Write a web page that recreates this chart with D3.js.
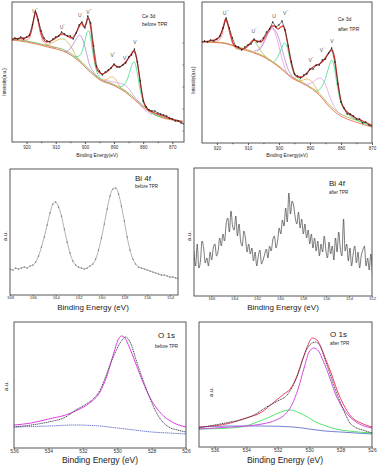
<!DOCTYPE html>
<html>
<head>
<meta charset="utf-8">
<script src="https://cdn.jsdelivr.net/npm/d3@7"></script>
<style>
  body { margin: 0; background: #fff; }
  svg { display: block; }
  text { font-family: "Liberation Sans", Arial, sans-serif; }
</style>
</head>
<body>
<div id="chart"></div>
<script>
// tick labels
var ceTicks = [920, 910, 900, 890, 880, 870];
var ceMinor = [915, 905, 895, 885, 875];
var ceYTicks = [11, 33, 55, 77, 99];
var biTicksBefore = [168, 166, 164, 162, 160, 158, 156, 154];
var biTicksAfter = [166, 164, 162, 160, 158, 156, 154, 152];
var oTicks = [536, 534, 532, 530, 528, 526];

// Ce 3d before TPR : measured counts, 925 eV down to 866 eV every 1 eV
var ceBeforeMeasured = [102, 104, 103, 105, 103, 105, 107, 117, 131, 122, 111, 104, 101, 100, 103, 105, 106, 110, 108, 106,
  106, 103, 109, 117, 120, 114, 126, 119, 96, 76, 71, 67, 70, 72, 74, 78, 75, 75, 77, 79,
  85, 87, 93, 80, 61, 41, 35, 32, 31, 31, 29, 28, 27, 26, 24, 23, 21, 21, 19, 18];
var ceBeforeEnvelope = [[925,103],[921,104],[919.5,105],[918.5,110],[917.6,122],[916.9,130],[916.2,124],[915.4,113],[914.4,104],[913,100],[911,102],[909,106],[907.8,108],[906,106],[904.5,104],[903.2,108],[902,115],[901.2,119],[900.3,115],[899.6,118],[898.9,124],[898.2,118],[897.4,100],[896.5,80],[895.5,71],[894,68],[892.5,70],[891,74],[890,77],[888.5,75],[887.5,76],[886,80],[884.5,86],[883.3,91],[882.4,86],[881.6,72],[880.8,55],[879.8,40],[878.5,33],[876,29],[873,26],[870,23],[866.5,20]];
var ceBeforeU3 = [[922,103],[920,102],[919,104],[918.2,112],[917.5,123],[916.9,128],[916.3,123],[915.6,113],[914.8,104],[913.8,99],[912,96],[910,94]];
var ceBeforeU2 = [[914,97],[912,98],[910,101],[908.5,103],[907.5,103],[906,100],[904.5,94],[903,86],[901.5,81]];
var ceBeforeU = [[907,90],[905.5,92],[904.2,97],[903,103],[901.8,107],[900.7,102],[899.6,91],[898.5,78],[897,70],[895.5,65]];
var ceBeforeV3 = [[904,85],[902,86],[900.8,92],[900,101],[899.2,110],[898.7,111],[898.1,105],[897.4,92],[896.6,78],[895.6,68],[894.5,63]];
var ceBeforeV2 = [[895,63],[893.5,62],[892.2,63],[891.2,65],[890.4,65],[889.5,63],[888.5,58],[887.3,53],[886,50]];
var ceBeforeV1 = [[894,62],[892,61],[890,60],[888.5,59],[887,58],[885.8,56],[884.6,52],[883.4,47],[882.2,42],[880.8,36],[879,31],[877,27]];
var ceBeforeV = [[888,55],[886.6,57],[885.4,63],[884.4,72],[883.6,79],[883.1,80],[882.5,76],[881.8,65],[881,52],[880.2,42],[879,35],[877,29],[874,25]];
var ceBeforeBg = [[925,102],[920,100],[912.7,95],[906,89],[901.7,80],[898.2,70],[894.8,62],[890.4,57],[886.2,50],[882.1,40],[878.7,32],[874.2,25],[870,22],[866.5,20]];
var ceBeforeBg2 = [[925,103],[920,101],[913,96.5],[906,90.5],[901.7,81.5],[898,71],[894.8,63],[890.4,58],[886,51],[882,41.5],[878.7,33.5],[874,26],[866.5,21]];
var ceBeforeLabels = [["U", "'''", 917.1, 129], ["U", "''", 907.8, 113], ["U", "", 901.7, 125], ["V", "'''", 898.6, 128],
  ["V", "''", 890.4, 85], ["V", "'", 886.2, 82], ["V", "", 882.8, 98]];

// Ce 3d after TPR : measured counts, 925 eV down to 870 eV every 1 eV
var ceAfterMeasured = [100, 102, 101, 103, 102, 104, 107, 115, 125, 115, 105, 97, 96, 93, 96, 98, 99, 104, 101, 102,
  105, 111, 114, 121, 116, 118, 122, 113, 97, 81, 69, 67, 65, 68, 69, 74, 74, 78, 78, 83,
  84, 90, 95, 81, 59, 41, 35, 29, 29, 27, 24, 24, 20, 21, 18, 17];
var ceAfterEnvelope = [[925,101],[921,103],[919.5,105],[918.6,110],[917.8,118],[917.2,124],[916.5,119],[915.6,108],[914.5,98],[913,95],[911.3,94],[909.5,99],[908.2,103],[907,102],[905.9,101],[904.5,106],[903.2,113],[902.2,117],[901.3,117],[900.4,114],[899.4,116],[898.7,117],[898,112],[897.2,100],[896.2,83],[895.2,71],[894,66],[892.6,66],[891,70],[889.8,74],[888.5,77],[887,79],[885.5,83],[884.2,89],[882.9,93],[882.1,86],[881.3,68],[880.5,50],[879.6,38],[878,31],[875.3,25],[873,22],[870.2,18]];
var ceAfterU3 = [[922,102],[920,102],[919,104],[918.2,110],[917.6,119],[917.2,123],[916.6,119],[915.8,109],[915,100],[914,95],[912,93]];
var ceAfterU2 = [[914,95],[912.5,94],[911,95],[909.6,98],[908.5,101],[908,102],[907.2,99],[906,93],[904.5,87],[903,82]];
var ceAfterU = [[908,92],[906.5,93],[905.2,98],[904,106],[903,112],[902.2,115],[901.3,113],[900.3,107],[899.3,97],[898.3,86],[897.2,75],[896,68],[894.5,64]];
var ceAfterUb = [[907,93],[905.5,98],[904.3,106],[903.3,113],[902.6,116],[901.8,114],[900.8,106],[899.8,94],[898.6,80],[897.4,70],[896,65]];
var ceAfterV3 = [[902,80],[900.8,84],[899.8,90],[899,96],[898.3,100],[897.6,98],[896.9,90],[896.1,79],[895.3,70],[894.3,66],[893,63]];
var ceAfterV2 = [[895,65],[893.5,62],[892.2,63],[891,64],[890,63],[889,60],[888,55],[887,50]];
var ceAfterV1 = [[892,58],[890.5,59],[889,61],[887.8,64],[886.8,65],[885.8,63],[884.8,57],[883.8,48],[882.8,40],[881.5,33],[880,28]];
var ceAfterV = [[888,52],[886.5,55],[885.3,62],[884.2,73],[883.4,81],[883,83],[882.4,79],[881.6,65],[880.8,50],[880,40],[879,34],[877.5,28],[875,23],[872,19],[870,17]];
var ceAfterBg = [[925,101],[918.4,100],[912,94],[904.3,85],[900,76],[895.8,65],[891.4,58],[887,48],[883.7,36],[880.6,28],[875.3,21],[870,16]];
var ceAfterBg2 = [[925,101.5],[918.4,100.5],[912,95],[904.3,86],[900,77],[895.8,66],[891.4,59],[887,49.5],[883.7,38],[880.6,30],[875.3,23],[870,18]];
var ceAfterLabels = [["U", "'''", 917.2, 128], ["U", "''", 908, 110], ["U", "", 901.6, 125], ["V", "'''", 897.8, 128],
  ["V", "''", 889.7, 81], ["V", "'", 886.2, 91], ["V", "", 882.9, 100]];

// Bi 4f before TPR : 168 eV down, every 0.25 eV
var biBefore = [26, 25, 27, 26, 27, 28, 27, 29, 30, 33, 39, 48, 58, 70, 82, 91, 93, 88, 79, 66,
  53, 42, 34, 30, 28, 27, 26, 27, 29, 31, 36, 45, 57, 71, 86, 99, 106, 107, 101, 89,
  74, 58, 45, 36, 31, 28, 27, 26, 25, 24, 23, 22, 21, 20, 20, 19, 18, 18, 17, 16];
// Bi 4f after TPR : 167.5 eV down, every 0.14 eV
var biAfter = [45, 30, 52, 28, 35, 55, 48, 33, 38, 30, 44, 36, 48, 52, 40, 45, 58, 50, 62, 55,
  72, 78, 64, 85, 70, 66, 80, 60, 72, 55, 50, 65, 58, 44, 52, 42, 48, 35, 44, 30,
  40, 46, 32, 36, 42, 47, 38, 50, 45, 56, 60, 48, 55, 68, 62, 76, 70, 88, 74, 103,
  82, 95, 90, 78, 72, 84, 68, 77, 62, 72, 58, 66, 52, 62, 48, 58, 45, 55, 40, 52,
  44, 60, 46, 38, 54, 42, 50, 36, 58, 44, 64, 48, 40, 77, 45, 52, 35, 48, 30, 42,
  50, 33, 44, 28, 40, 46, 50, 30, 38, 26, 42, 20];

// O 1s before TPR
var oBeforeMeasured = [[536,21],[535,23],[534,26],[533,31],[532.4,38],[531.8,44],[531.4,49],[531,58],[530.7,70],[530.4,84],[530.1,96],[529.8,106],[529.5,111],[529.2,104],[528.9,88],[528.5,68],[528.1,50],[527.8,38],[527.4,27],[527,21],[526.5,18],[526,16]];
var oBeforeFit = [[536,23],[535,25],[534,29],[533,33],[532.3,38],[531.6,45],[531,56],[530.6,72],[530.2,95],[529.95,108],[529.75,112],[529.55,110],[529.3,101],[529,88],[528.6,70],[528.2,54],[527.8,42],[527.3,32],[526.7,25],[526,21]];
var oBeforeBg = [[536,21],[534,22],[532.5,23],[531,22],[530,20],[529,18],[528,16],[527,15],[526,14]];

// O 1s after TPR
var oAfterMeasured = [[537,19],[536,22],[535,25],[534.4,27],[533.5,32],[532.7,40],[532,46],[531.4,52],[531,62],[530.7,73],[530.4,88],[530.1,99],[529.8,104],[529.6,105],[529.3,101],[529,88],[528.6,70],[528.3,56],[528,44],[527.7,33],[527.4,24],[527.1,20],[526.6,17],[526,14]];
var oAfterEnvelope = [[537,20],[535,24],[534,29],[533,35],[532.3,44],[531.6,53],[531.2,58],[530.8,70],[530.4,88],[530.1,101],[529.8,109],[529.5,107],[529.2,98],[528.9,86],[528.6,74],[528.2,56],[527.8,42],[527.3,30],[526.7,24],[526,20]];
var oAfterLattice = [[537,18],[535,20],[534,21],[533,23],[532.1,27],[531.5,33],[531.1,42],[530.7,58],[530.3,80],[530,95],[529.7,99],[529.4,96],[529.1,86],[528.7,70],[528.3,52],[527.9,40],[527.4,30],[526.8,23],[526,19]];
var oAfterDefect = [[537,18],[535,19],[534,21],[533.3,25],[532.5,30],[531.8,35],[531.2,37],[530.6,34],[530.1,30],[529.6,25],[529.1,22],[528.3,18],[527.5,16],[526,14]];
var oAfterBg = [[537,20],[535,21],[533,21],[531,20],[530,18],[529,16],[528,15],[526,13]];

var svg = d3.select("#chart").append("svg").attr("width", 378).attr("height", 467);
var clipN = 0;

function panel(box, xDom, yMax, ticks, minor) {
  var g = svg.append("g").attr("transform", "translate(" + box.x + "," + box.y + ")");
  var x = d3.scaleLinear().domain(xDom).range([0, box.w]);
  var y = d3.scaleLinear().domain([0, yMax]).range([box.h, 0]);
  var id = "clip" + (clipN++);
  g.append("clipPath").attr("id", id).append("rect").attr("width", box.w).attr("height", box.h);
  var plot = g.append("g").attr("clip-path", "url(#" + id + ")");
  if (minor) {
    g.append("g").attr("transform", "translate(0," + box.h + ")")
      .call(d3.axisBottom(x).tickValues(minor).tickSize(1.2).tickFormat(""))
      .call(function (a) { a.select(".domain").remove(); a.selectAll("line").attr("stroke", "#555"); });
  }
  var ax = g.append("g").attr("transform", "translate(0," + box.h + ")")
    .call(d3.axisBottom(x).tickValues(ticks).tickSize(box.tick).tickPadding(box.pad).tickFormat(d3.format("d")));
  ax.select(".domain").remove();
  ax.selectAll("line").attr("stroke", "#555");
  ax.selectAll("text").style("font-size", box.fs + "px").attr("fill", "#333").style("font-family", "'Liberation Sans', Arial, sans-serif");
  g.append("rect").attr("width", box.w).attr("height", box.h)
    .attr("fill", "none").attr("stroke", "#444").attr("stroke-width", 0.9);
  return { g: g, plot: plot, x: x, y: y, w: box.w, h: box.h };
}

function curve(p, pts, color, width, dash) {
  p.plot.append("path").datum(pts)
    .attr("fill", "none").attr("stroke", color).attr("stroke-width", width)
    .attr("stroke-dasharray", dash || null)
    .attr("d", d3.line().x(function (d) { return p.x(d[0]); }).y(function (d) { return p.y(d[1]); }).curve(d3.curveMonotoneX));
}

function spectrum(start, step, vals) {
  return vals.map(function (v, i) { return [start - i * step, v]; });
}

function dots(p, pts, color, r) {
  p.plot.selectAll(null).data(pts).enter().append("circle")
    .attr("cx", function (d) { return p.x(d[0]); }).attr("cy", function (d) { return p.y(d[1]); })
    .attr("r", r).attr("fill", color);
}

function label(x, y, txt, size, opts) {
  opts = opts || {};
  var t = svg.append("text").attr("x", x).attr("y", y).text(txt)
    .style("font-size", size + "px").attr("fill", opts.fill || "#222")
    .attr("text-anchor", opts.anchor || "start");
  if (opts.rot) t.attr("transform", "rotate(-90," + x + "," + y + ")");
  return t;
}

function peakLabels(p, list) {
  list.forEach(function (d) {
    var t = p.g.append("text").attr("x", p.x(d[2])).attr("y", p.y(d[3]))
      .attr("text-anchor", "middle").style("font-size", "5px").attr("fill", "#555").text(d[0]);
    if (d[1]) t.append("tspan").attr("dy", -1.8).style("font-size", "3.6px").text(d[1]);
  });
}

function yTicksRight(p, vals) {
  p.g.selectAll(null).data(vals).enter().append("line")
    .attr("x1", p.w).attr("x2", p.w - 1.5)
    .attr("y1", function (d) { return p.y(d); }).attr("y2", function (d) { return p.y(d); })
    .attr("stroke", "#555").attr("stroke-width", 0.7);
}

// ---------- Ce 3d before ----------
var p1 = panel({ x: 12, y: 2, w: 172, h: 140, tick: 2, pad: 1.5, fs: 4.5 }, [925, 866], 140, ceTicks, ceMinor);
curve(p1, ceBeforeBg2, "#6ab04c", 0.8);
curve(p1, ceBeforeBg, "#d8602e", 0.8);
curve(p1, ceBeforeU3, "#f07070", 0.7);
curve(p1, ceBeforeU2, "#c2b040", 0.7);
curve(p1, ceBeforeU, "#a77cc8", 0.7);
curve(p1, ceBeforeV3, "#3fe08a", 0.8);
curve(p1, ceBeforeV2, "#e5a53a", 0.7);
curve(p1, ceBeforeV1, "#d795e6", 0.7);
curve(p1, ceBeforeV, "#3fe08a", 0.8);
curve(p1, ceBeforeEnvelope, "#e8403a", 1.3);
var m1 = spectrum(925, 1, ceBeforeMeasured);
p1.plot.append("path").datum(m1).attr("fill", "none").attr("stroke", "#222").attr("stroke-width", 0.6)
  .attr("d", d3.line().x(function (d) { return p1.x(d[0]); }).y(function (d) { return p1.y(d[1]); }));
dots(p1, m1, "#111", 0.7);
peakLabels(p1, ceBeforeLabels);
yTicksRight(p1, ceYTicks);
label(142, 18, "Ce 3d", 5);
label(142, 26, "before TPR", 5);
label(97, 157, "Binding Energy(eV)", 4.8, { anchor: "middle" });
label(6, 82, "Intensity(a.u.)", 4.5, { anchor: "middle", rot: true });

// ---------- Ce 3d after ----------
var p2 = panel({ x: 202, y: 2, w: 170, h: 141, tick: 2, pad: 1.5, fs: 4.5 }, [924.8, 870], 141, ceTicks, ceMinor);
curve(p2, ceAfterBg2, "#a8b040", 0.8);
curve(p2, ceAfterBg, "#e0603a", 0.8);
curve(p2, ceAfterU3, "#f07070", 0.7);
curve(p2, ceAfterU2, "#8cc040", 0.7);
curve(p2, ceAfterUb, "#e68ad8", 0.7);
curve(p2, ceAfterU, "#a77cc8", 0.7);
curve(p2, ceAfterV3, "#3fe08a", 0.8);
curve(p2, ceAfterV2, "#e5a53a", 0.7);
curve(p2, ceAfterV1, "#d795e6", 0.7);
curve(p2, ceAfterV, "#3fe08a", 0.8);
curve(p2, ceAfterEnvelope, "#e8403a", 1.3);
var m2 = spectrum(925, 1, ceAfterMeasured);
p2.plot.append("path").datum(m2).attr("fill", "none").attr("stroke", "#222").attr("stroke-width", 0.6)
  .attr("d", d3.line().x(function (d) { return p2.x(d[0]); }).y(function (d) { return p2.y(d[1]); }));
dots(p2, m2, "#111", 0.7);
peakLabels(p2, ceAfterLabels);
label(338, 21, "Ce 3d", 5);
label(338, 31, "after TPR", 5);
label(287, 157, "Binding Energy(eV)", 4.8, { anchor: "middle" });
label(195, 80, "Intensity(a.u.)", 4.5, { anchor: "middle", rot: true });

// ---------- Bi 4f before ----------
var p3 = panel({ x: 10, y: 169, w: 168, h: 126, tick: 0.8, pad: 0.2, fs: 4.3 }, [168, 153.3], 126, biTicksBefore);
var b1 = spectrum(168, 0.25, biBefore);
curve(p3, b1, "#666", 0.5);
dots(p3, b1, "#333", 0.55);
label(135, 181, "Bi 4f", 8);
label(135, 187.5, "before TPR", 4.5);
label(93, 310, "Binding Energy (eV)", 8, { anchor: "middle" });
label(7, 236, "a.u.", 6, { anchor: "middle", rot: true });

// ---------- Bi 4f after ----------
var p4 = panel({ x: 194, y: 168, w: 178, h: 128, tick: 0.8, pad: 0.2, fs: 4.3 }, [167.5, 152], 128, biTicksAfter);
curve(p4, spectrum(167.5, 0.14, biAfter), "#333", 0.65);
label(329, 186, "Bi 4f", 8);
label(329, 194, "after TPR", 4.5);
label(283, 310, "Binding Energy (eV)", 8, { anchor: "middle" });
label(191, 236, "a.u.", 6, { anchor: "middle", rot: true });

// ---------- O 1s before ----------
var p5 = panel({ x: 14, y: 322, w: 172, h: 126, tick: 0.8, pad: 0.5, fs: 5 }, [536, 526], 126, oTicks);
curve(p5, oBeforeBg, "#5060c8", 0.8, "1.5,0.6");
curve(p5, oBeforeFit, "#e040e0", 1);
curve(p5, oBeforeMeasured, "#334", 0.9, "1.2,0.7");
label(158, 338, "O 1s", 8);
label(155, 348, "before TPR", 4.5);
label(100, 463, "Binding Energy (eV)", 8.5, { anchor: "middle" });
label(8, 386, "a.u.", 6, { anchor: "middle", rot: true });

// ---------- O 1s after ----------
var p6 = panel({ x: 199, y: 322, w: 173, h: 125, tick: 0.8, pad: 0.5, fs: 5 }, [537, 526], 125, oTicks);
curve(p6, oAfterBg, "#5060c8", 0.8);
curve(p6, oAfterDefect, "#40e060", 0.9);
curve(p6, oAfterLattice, "#d050e0", 1);
curve(p6, oAfterEnvelope, "#f04060", 1);
curve(p6, oAfterMeasured, "#333", 0.9, "1.2,0.6");
label(330, 337, "O 1s", 8);
label(330, 345, "after TPR", 4.5);
label(285, 463, "Binding Energy (eV)", 8.5, { anchor: "middle" });
label(213, 392, "a.u.", 6, { anchor: "middle", rot: true });
</script>
</body>
</html>
